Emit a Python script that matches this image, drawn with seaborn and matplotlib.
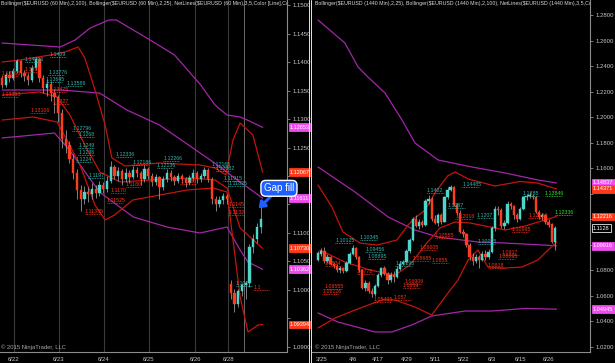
import numpy as np
import matplotlib
matplotlib.use("Agg")
import matplotlib.pyplot as plt
from matplotlib.lines import Line2D
from matplotlib.transforms import blended_transform_factory
import seaborn as sns

# ------------------------------------------------------------------ LEFT: EURUSD 60 Min
left_dates = ["6/22", "6/23", "6/24", "6/25", "6/26", "6/28"]
left_date_pos = [3.2, 15.2, 27.2, 39.2, 51.5, 60.3]
left_open = [1.1372, 1.1360, 1.1378, 1.1372, 1.1385, 1.1402, 1.1380, 1.1375, 1.1368, 1.1390,
             1.1405, 1.1372, 1.1355, 1.1362, 1.1345, 1.1338, 1.1310, 1.1265, 1.1255, 1.1230,
             1.1205, 1.1175, 1.1160, 1.1172, 1.1168, 1.1178, 1.1170, 1.1185, 1.1178, 1.1192,
             1.1215, 1.1200, 1.1208, 1.1195, 1.1205, 1.1198, 1.1210, 1.1205, 1.1195, 1.1212,
             1.1200, 1.1190, 1.1198, 1.1180, 1.1195, 1.1205, 1.1198, 1.1192, 1.1200, 1.1195,
             1.1188, 1.1197, 1.1205, 1.1195, 1.1200, 1.1210, 1.1195, 1.1160, 1.1150, 1.1158,
             1.1165, 1.1010, 1.0995, 1.0975, 1.0998, 1.1008, 1.1012, 1.1075, 1.1090, 1.1110]
left_high = [1.1378, 1.1382, 1.1384, 1.1390, 1.1406, 1.1404, 1.1386, 1.1380, 1.1395, 1.1409,
             1.1407, 1.1378, 1.1370, 1.1366, 1.1352, 1.1342, 1.1318, 1.1280, 1.1262, 1.1238,
             1.1212, 1.1185, 1.1182, 1.1180, 1.1188, 1.1185, 1.1192, 1.1190, 1.1200, 1.1226,
             1.1220, 1.1215, 1.1212, 1.1214, 1.1210, 1.1218, 1.1216, 1.1208, 1.1220, 1.1216,
             1.1205, 1.1204, 1.1200, 1.1200, 1.1212, 1.1210, 1.1202, 1.1206, 1.1204, 1.1198,
             1.1202, 1.1212, 1.1208, 1.1206, 1.1216, 1.1214, 1.1198, 1.1165, 1.1165, 1.1170,
             1.1168, 1.1018, 1.1002, 1.1002, 1.1012, 1.1015, 1.1080, 1.1098, 1.1118, 1.1145]
left_low = [1.1355, 1.1356, 1.1365, 1.1368, 1.1380, 1.1374, 1.1366, 1.1360, 1.1365, 1.1386,
            1.1365, 1.1345, 1.1340, 1.1332, 1.1310, 1.1295, 1.1250, 1.1240, 1.1222, 1.1195,
            1.1160, 1.1138, 1.1150, 1.1155, 1.1160, 1.1162, 1.1165, 1.1170, 1.1172, 1.1188,
            1.1195, 1.1192, 1.1185, 1.1190, 1.1188, 1.1195, 1.1198, 1.1185, 1.1190, 1.1195,
            1.1182, 1.1185, 1.1160, 1.1175, 1.1190, 1.1192, 1.1185, 1.1188, 1.1188, 1.1180,
            1.1184, 1.1192, 1.1188, 1.1190, 1.1196, 1.1190, 1.1150, 1.1138, 1.1145, 1.1150,
            1.1150, 1.0985, 1.0962, 1.0970, 1.0990, 1.0985, 1.1005, 1.1065, 1.1082, 1.1100]
left_close = [1.1360, 1.1378, 1.1372, 1.1385, 1.1402, 1.1380, 1.1375, 1.1368, 1.1390, 1.1405,
              1.1372, 1.1355, 1.1362, 1.1345, 1.1338, 1.1310, 1.1265, 1.1255, 1.1230, 1.1205,
              1.1175, 1.1160, 1.1172, 1.1168, 1.1178, 1.1170, 1.1185, 1.1178, 1.1192, 1.1215,
              1.1200, 1.1208, 1.1195, 1.1205, 1.1198, 1.1210, 1.1205, 1.1195, 1.1212, 1.1200,
              1.1190, 1.1198, 1.1180, 1.1195, 1.1205, 1.1198, 1.1192, 1.1200, 1.1195, 1.1188,
              1.1197, 1.1205, 1.1195, 1.1200, 1.1210, 1.1195, 1.1160, 1.1150, 1.1158, 1.1165,
              1.1160, 1.0995, 1.0975, 1.0998, 1.1008, 1.1012, 1.1075, 1.1090, 1.1110, 1.1125]

# Bollinger (2,100) and (2,25) bands, read at selected bars
left_bb100_upper_x = [0, 15.5, 19.5, 23.5, 28.5, 30.5, 39.5, 46, 53, 56.8, 60, 63.5, 66, 69.5]
left_bb100_upper = [1.14333, 1.14263, 1.14386, 1.14596, 1.14737, 1.14737, 1.14386, 1.14123,
                    1.13596, 1.13246, 1.13070, 1.13035, 1.12965, 1.12853]
left_bb100_mid_x = [0, 15.5, 26, 33.3, 42, 56.3, 63.5, 69.5]
left_bb100_mid = [1.13509, 1.13509, 1.13456, 1.13158, 1.12895, 1.12246, 1.11895, 1.11611]
left_bb100_lower_x = [0, 14, 18, 26, 35, 44, 52.8, 60, 63.5, 65.6, 69.5]
left_bb100_lower = [1.12667, 1.12754, 1.12456, 1.11719, 1.11281, 1.11105, 1.11000, 1.11105,
                    1.10702, 1.10491, 1.10362]
left_bb25_upper_x = [0, 4.8, 12.8, 16.8, 20.3, 22.1, 24.8, 27.5, 29.3, 32.8, 42, 52.8, 56.8,
                     59.7, 61.6, 63.5, 66.9, 69.5]
left_bb25_upper = [1.14000, 1.14035, 1.14123, 1.14175, 1.14263, 1.14070, 1.13509, 1.12895,
                   1.12316, 1.12175, 1.12228, 1.12193, 1.12140, 1.12018, 1.12632, 1.12930,
                   1.12719, 1.12067]
left_bb25_mid_x = [0, 10, 14.7, 18.1, 22.1, 26.1, 31.5, 39.5, 50, 56.8, 60, 63.5, 69.5]
left_bb25_mid = [1.13421, 1.13474, 1.13386, 1.13070, 1.12544, 1.12070, 1.11895, 1.11930,
                 1.11965, 1.11930, 1.11789, 1.11088, 1.10730]
left_bb25_lower_x = [0, 8.3, 14.7, 17.3, 20.8, 24.8, 27.5, 30, 34.9, 49.3, 56.3, 60, 63.5,
                     65.6, 68.3, 69.5]
left_bb25_lower = [1.12982, 1.13035, 1.12947, 1.12632, 1.12193, 1.11491, 1.11228, 1.11316,
                   1.11579, 1.11754, 1.11789, 1.11719, 1.09877, 1.09263, 1.09386, 1.09394]

left_net_text = ["1.14006", "1.1409", "1.13776", "1.13645", "1.13586", "1.12796", "1.1268",
                 "1.1249", "1.1236", "1.1224", "1.1197", "1.12336", "1.12186", "1.12266",
                 "1.12136", "1.12165", "1.12082", "1.11915", "1.11825", "1.1007",
                 "1.13393", "1.1382", "1.13763", "1.13475", "1.1327", "1.13106", "1.11335",
                 "1.1180", "1.11525", "1.1170", "1.1186", "1.1145", "1.1132", "1.1"]
left_net_x = [6.1, 12.8, 12.3, 11.7, 17.2, 18.7, 20.3, 20.3, 20.3, 19.7, 23, 30.4, 34.7, 43,
              41.3, 56, 57, 59, 60.3, 62.4,
              0, 6.0, 0, 12.8, 13.6, 7.5, 22.1, 33, 28, 29, 47.5, 60.3, 60.3, 67]
left_net_kind = ["up"] * 20 + ["dn"] * 14

left_tag_text = ["1.12853", "1.12067", "1.11611", "1.10730", "1.10362", "1.09394"]
left_tag_kind = ["bb100", "bb25", "bb100", "bb25", "bb100", "bb25"]

# ------------------------------------------------------------------ RIGHT: EURUSD 1440 Min
right_dates = ["3/25", "4/6", "4/17", "4/29", "5/11", "5/22", "6/3", "6/15", "6/26"]
right_date_pos = [1, 11, 19, 28, 37, 46, 55, 64, 73]
right_open = [1.0880, 1.0930, 1.0950, 1.0870, 1.0905, 1.0850, 1.0830, 1.0800, 1.0815, 1.0790,
              1.0860, 1.0930, 1.0975, 1.0900, 1.0800, 1.0660, 1.0700, 1.0640, 1.0610, 1.0680,
              1.0760, 1.0815, 1.0770, 1.0720, 1.0760, 1.0745, 1.0810, 1.0850, 1.0865, 1.0950,
              1.1040, 1.1200, 1.1150, 1.1175, 1.1155, 1.1340, 1.1360, 1.1200, 1.1170, 1.1230,
              1.1180, 1.1370, 1.1430, 1.1450, 1.1310, 1.1250, 1.1100, 1.1080, 1.1000, 1.0900,
              1.0870, 1.0905, 1.0880, 1.0930, 1.0900, 1.0945, 1.1130, 1.1280, 1.1270, 1.1150,
              1.1170, 1.1320, 1.1300, 1.1230, 1.1200, 1.1280, 1.1370, 1.1380, 1.1385, 1.1375,
              1.1260, 1.1220, 1.1230, 1.1180, 1.1160, 1.1020]
right_high = [1.0950, 1.0975, 1.0985, 1.0925, 1.0915, 1.0865, 1.0845, 1.0830, 1.0825, 1.0870,
              1.0945, 1.1000, 1.0985, 1.0910, 1.0810, 1.0720, 1.0715, 1.0660, 1.0690, 1.0775,
              1.0825, 1.0830, 1.0785, 1.0785, 1.0790, 1.0830, 1.0870, 1.0880, 1.0965, 1.1050,
              1.1215, 1.1230, 1.1200, 1.1195, 1.1360, 1.1390, 1.1375, 1.1230, 1.1245, 1.1250,
              1.1380, 1.1450, 1.1468, 1.1460, 1.1330, 1.1270, 1.1120, 1.1095, 1.1010, 1.0935,
              1.0925, 1.0920, 1.0950, 1.0960, 1.0965, 1.1145, 1.1300, 1.1300, 1.1290, 1.1190,
              1.1340, 1.1335, 1.1310, 1.1245, 1.1295, 1.1385, 1.1395, 1.1410, 1.1400, 1.1385,
              1.1275, 1.1250, 1.1240, 1.1200, 1.1170, 1.1145]
right_low = [1.0870, 1.0915, 1.0860, 1.0855, 1.0840, 1.0815, 1.0785, 1.0780, 1.0775, 1.0785,
             1.0850, 1.0920, 1.0890, 1.0785, 1.0650, 1.0640, 1.0620, 1.0590, 1.0600, 1.0670,
             1.0750, 1.0760, 1.0690, 1.0710, 1.0705, 1.0735, 1.0800, 1.0840, 1.0855, 1.0935,
             1.1030, 1.1140, 1.1120, 1.1140, 1.1150, 1.1320, 1.1185, 1.1160, 1.1150, 1.1165,
             1.1175, 1.1360, 1.1420, 1.1300, 1.1230, 1.1090, 1.1060, 1.0985, 1.0880, 1.0840,
             1.0855, 1.0820, 1.0870, 1.0880, 1.0890, 1.0935, 1.1110, 1.1230, 1.1130, 1.1120,
             1.1160, 1.1280, 1.1200, 1.1180, 1.1190, 1.1270, 1.1350, 1.1365, 1.1360, 1.1250,
             1.1200, 1.1190, 1.1165, 1.1140, 1.1010, 1.0955]
right_close = [1.0935, 1.0950, 1.0870, 1.0905, 1.0850, 1.0830, 1.0800, 1.0815, 1.0790, 1.0860,
               1.0930, 1.0975, 1.0900, 1.0800, 1.0660, 1.0700, 1.0640, 1.0610, 1.0680, 1.0760,
               1.0815, 1.0770, 1.0720, 1.0760, 1.0745, 1.0810, 1.0850, 1.0865, 1.0950, 1.1040,
               1.1200, 1.1150, 1.1175, 1.1155, 1.1340, 1.1360, 1.1200, 1.1170, 1.1230, 1.1180,
               1.1370, 1.1430, 1.1455, 1.1310, 1.1250, 1.1100, 1.1080, 1.1000, 1.0900, 1.0870,
               1.0905, 1.0880, 1.0930, 1.0900, 1.0945, 1.1130, 1.1280, 1.1270, 1.1150, 1.1170,
               1.1320, 1.1300, 1.1230, 1.1200, 1.1280, 1.1370, 1.1380, 1.1390, 1.1375, 1.1260,
               1.1220, 1.1230, 1.1180, 1.1155, 1.1020, 1.1128]

right_bb100_upper_x = [0, 8.5, 12.7, 15.8, 21.2, 26.6, 30.7, 38, 48.7, 59.2, 69.6, 75.5]
right_bb100_upper = [1.2761, 1.2581, 1.2392, 1.2314, 1.2189, 1.1977, 1.1797, 1.1664, 1.1609,
                     1.1562, 1.1507, 1.14837]
right_bb100_mid_x = [0, 11.7, 22.2, 30.7, 38, 50.6, 59.2, 75.5]
right_bb100_mid = [1.1609, 1.1413, 1.1217, 1.1115, 1.1060, 1.1021, 1.1013, 1.09916]
right_bb100_lower_x = [0, 6.3, 18, 23.4, 29.7, 36, 46.5, 55, 65.5, 75.5]
right_bb100_lower = [1.0465, 1.0394, 1.0316, 1.0316, 1.0371, 1.0441, 1.0480, 1.0480, 1.0500,
                     1.04945]
right_bb25_upper_x = [0, 4.4, 7.9, 13.3, 18.7, 25, 28.5, 30.7, 33.9, 37, 41, 43.4, 47.5, 56,
                      63.9, 69.5, 75.5]
right_bb25_upper = [1.1468, 1.1295, 1.1099, 1.1013, 1.0997, 1.1037, 1.1154, 1.1209, 1.1272,
                    1.1405, 1.1538, 1.1570, 1.1515, 1.1460, 1.1495, 1.1483, 1.14371]
right_bb25_mid_x = [0.6, 8.5, 16.5, 24.4, 29.1, 33.9, 38.6, 43.4, 48.1, 54.4, 59.2, 65.5,
                    71.8, 75.5]
right_bb25_mid = [1.0958, 1.0864, 1.0801, 1.0762, 1.0841, 1.0997, 1.1131, 1.1178, 1.1170,
                  1.1139, 1.1115, 1.1146, 1.1193, 1.12216]
right_bb25_lower_x = [0, 5.4, 11.7, 20.3, 24.4, 30.7, 36, 40.2, 44.3, 47.5, 50.6, 53.8,
                      59.2, 64.6, 69.6, 72.8, 75.5]
right_bb25_lower = [1.0347, 1.0425, 1.0488, 1.0567, 1.0567, 1.0511, 1.0449, 1.0590, 1.0723,
                    1.0880, 1.0958, 1.0825, 1.0817, 1.0825, 1.0880, 1.0958, 1.1021]

right_net_text = ["1.14485", "1.1402", "1.1385", "1.1287", "1.1207", "1.10025", "1.10125",
                  "1.10345", "1.09456", "1.08895", "1.08295",
                  "1.13846", "1.12336",
                  "1.12016", "1.12104", "1.10555", "1.10995", "1.0917", "1.08895", "1.0818",
                  "1.09605", "1.08685", "1.0855", "1.06906", "1.0659", "1.057", "1.05495",
                  "1.0834", "1.06555", "1.06126", "1.0772"]
right_net_x = [45.6, 34.5, 64.6, 41, 50.3, 50.6, 5.4, 13.3, 14.9, 15.8, 24.4,
               71.8, 75,
               43.4, 66.5, 37, 61.4, 58.2, 57, 53.8, 32.3, 30.0, 36.0, 27.5, 26.9, 24.0, 17.5,
               2.2, 2.2, 1.3, 12.3]
right_net_kind = ["up"] * 11 + ["gr"] * 2 + ["dn"] * 18

right_tag_text = ["1.14837", "1.14371", "1.12216", "1.1128", "1.09916", "1.04945"]
right_tag_kind = ["bb100", "bb25", "bb25", "last", "bb100", "bb100"]

left_header = ("Bollinger($EURUSD (60 Min),2,100), Bollinger($EURUSD (60 Min),2,25), "
               "NetLines($EURUSD (60 Min),3,5,Color [Line],Col")
right_header = ("Bollinger($EURUSD (1440 Min),2,25), Bollinger($EURUSD (1440 Min),2,100), "
                "NetLines($EURUSD (1440 Min),3,5,Col")
copyright_text = "© 2015 NinjaTrader, LLC"

# ------------------------------------------------------------------ style
UP, DN, WICK = "#4fd6cb", "#ff3c1e", "#a3a3a3"
PURPLE, RED = "#a326a8", "#c4140c"
NET_COLORS = {"up": "#2fb7ae", "dn": "#ff3218", "gr": "#2fe02f"}
TAG_STYLE = {"bb100": ("#f04cf0", "#f04cf0", "white"),
             "bb25": ("#ff3a1a", "#ff3a1a", "white"),
             "last": ("black", "#e8e8e8", "white")}
GRAY = "#c6c6c6"

sns.set_theme(style="dark", rc={"axes.facecolor": "black", "figure.facecolor": "black"})
plt.rcParams["font.family"] = ["Liberation Sans", "DejaVu Sans"]

W, H = 615, 363
fig = plt.figure(figsize=(6.15, 3.63), dpi=100, facecolor="black")
plot_bottom = 352
axL = fig.add_axes([0 / W, (H - plot_bottom) / H, 287 / W, plot_bottom / H])
axR = fig.add_axes([312 / W, (H - plot_bottom) / H, 278 / W, plot_bottom / H])


def draw_candles(ax, o, h, l, c, width):
    o = np.asarray(o); h = np.asarray(h); l = np.asarray(l); c = np.asarray(c)
    x = np.arange(len(o))
    ax.vlines(x, l, h, color=WICK, lw=0.55, zorder=3)
    cols = np.where(c >= o, UP, DN)
    ax.bar(x, c - o, bottom=o, width=width, color=cols, edgecolor=cols, linewidth=0.3,
           zorder=4)


def draw_band(ax, xs, ys, color, lw=0.9):
    sns.lineplot(x=xs, y=ys, ax=ax, color=color, lw=lw, estimator=None, sort=False,
                 zorder=2)


def draw_netlines(ax, texts, xs, kinds, w):
    for t, x, k in zip(texts, xs, kinds):
        v = float(t)
        col = NET_COLORS[k]
        ax.plot([x, x + w], [v, v], ls=(0, (1, 1)), color=col, lw=0.6, zorder=5)
        ax.text(x, v, t, color=col, fontsize=3.8, ha="left", va="bottom", zorder=6,
                clip_on=True)


def draw_tags(ax, texts, kinds, ax_w_px):
    tr = blended_transform_factory(ax.transAxes, ax.transData)
    for t, k in zip(texts, kinds):
        fc, ec, tc = TAG_STYLE[k]
        ax.text(1 + 3 / ax_w_px, float(t), t, transform=tr, ha="left", va="center",
                fontsize=4.0, color=tc, zorder=10, clip_on=False,
                bbox=dict(boxstyle="square,pad=0.25", fc=fc, ec=ec, lw=0.6))


def style_axes(ax, yticks, ylim, xlim, xt_pos, xt_lab, tags):
    ax.set_facecolor("black")
    ax.set_xlim(*xlim)
    ax.set_ylim(*ylim)
    ax.yaxis.tick_right()
    ax.set_yticks(yticks)
    # price labels hidden behind the coloured tags are not printed
    px_per_unit = plot_bottom / (ylim[1] - ylim[0])
    tag_vals = [float(t) for t in tags]
    labs = []
    for v in yticks:
        near = min(abs(v - tv) for tv in tag_vals) * px_per_unit
        labs.append("" if near < 7.5 else f"{v:.4f}")
    ax.set_yticklabels(labs)
    ax.set_xticks(xt_pos)
    ax.set_xticklabels(xt_lab)
    ax.tick_params(axis="y", colors="#8c8c8c", labelcolor=GRAY, labelsize=4.3, length=2.5,
                   width=0.6, pad=1.2, direction="out", right=True, left=False)
    ax.tick_params(axis="x", colors="#8c8c8c", labelcolor=GRAY, labelsize=4.3, length=2.5,
                   width=0.6, pad=1.0, direction="out")
    for s in ["top", "left"]:
        ax.spines[s].set_visible(False)
    for s in ["right", "bottom"]:
        ax.spines[s].set_visible(True)
        ax.spines[s].set_color("#8c8c8c")
        ax.spines[s].set_linewidth(0.8)
    ax.set_xlabel("")
    ax.set_ylabel("")


# ---------------- left panel
left_yticks = [round(v, 4) for v in np.arange(1.0900, 1.15001, 0.005)]
style_axes(axL, left_yticks, (1.08912, 1.15088), (-0.53, 76.0), left_date_pos, left_dates,
           left_tag_text)
axL.grid(axis="x", color="#3a3a3a", lw=0.8)
axL.grid(axis="y", visible=False)
axL.axvline(64.5, color="#6a6a6a", lw=0.7, zorder=1)

draw_band(axL, left_bb100_upper_x, left_bb100_upper, PURPLE)
draw_band(axL, left_bb100_mid_x, left_bb100_mid, PURPLE)
draw_band(axL, left_bb100_lower_x, left_bb100_lower, PURPLE)
draw_band(axL, left_bb25_upper_x, left_bb25_upper, RED)
draw_band(axL, left_bb25_mid_x, left_bb25_mid, RED)
draw_band(axL, left_bb25_lower_x, left_bb25_lower, RED)
draw_candles(axL, left_open, left_high, left_low, left_close, 0.6)
draw_netlines(axL, left_net_text, left_net_x, left_net_kind, 4.2)
draw_tags(axL, left_tag_text, left_tag_kind, 287)

axL.text(0.002, 0.997, left_header, transform=axL.transAxes, ha="left", va="top",
         fontsize=3.75, color="#d8d8d8", clip_on=True, zorder=8)
axL.text(0.004, 0.006, copyright_text, transform=axL.transAxes, ha="left",
         va="bottom", fontsize=4.2, color="#a8a8a8", zorder=8)

axL.annotate("Gap fill", xy=(68.4, 1.1143), xytext=(0.972, 0.465),
             textcoords="axes fraction", ha="center", va="center", fontsize=7,
             color="white", zorder=20, annotation_clip=False,
             bbox=dict(boxstyle="round,pad=0.3,rounding_size=0.5", fc="#1f5fff",
                       ec="white", lw=1.0),
             arrowprops=dict(arrowstyle="-|>,head_length=0.5,head_width=0.35",
                             color="#1f5fff", lw=2.2, shrinkA=0, shrinkB=0))

# ---------------- right panel
right_yticks = [round(v, 2) for v in np.arange(1.02, 1.2801, 0.02)]
style_axes(axR, right_yticks, (1.01589, 1.29176), (-1.9, 86.1), right_date_pos,
           right_dates, right_tag_text)
axR.set_xticks(np.arange(0, len(right_open)), minor=True)
axR.tick_params(axis="x", which="minor", colors="#8c8c8c", length=2.0, width=0.5,
                direction="out")
axR.grid(False)

draw_band(axR, right_bb100_upper_x, right_bb100_upper, PURPLE)
draw_band(axR, right_bb100_mid_x, right_bb100_mid, PURPLE)
draw_band(axR, right_bb100_lower_x, right_bb100_lower, PURPLE)
draw_band(axR, right_bb25_upper_x, right_bb25_upper, RED)
draw_band(axR, right_bb25_mid_x, right_bb25_mid, RED)
draw_band(axR, right_bb25_lower_x, right_bb25_lower, RED)
draw_candles(axR, right_open, right_high, right_low, right_close, 0.75)
draw_netlines(axR, right_net_text, right_net_x, right_net_kind, 5.5)
draw_tags(axR, right_tag_text, right_tag_kind, 278)

axR.text(0.012, 0.997, right_header, transform=axR.transAxes, ha="left", va="top",
         fontsize=3.75, color="#d8d8d8", clip_on=True, zorder=8)
axR.text(0.012, 0.006, copyright_text, transform=axR.transAxes, ha="left",
         va="bottom", fontsize=4.2, color="#a8a8a8", zorder=8)

# panel separator
for xp in (308.5, 310.8):
    fig.add_artist(Line2D([xp / W, xp / W], [0, 1], color="#e6e6e6", lw=0.7))

fig.savefig("out.png", dpi=100, facecolor="black")
